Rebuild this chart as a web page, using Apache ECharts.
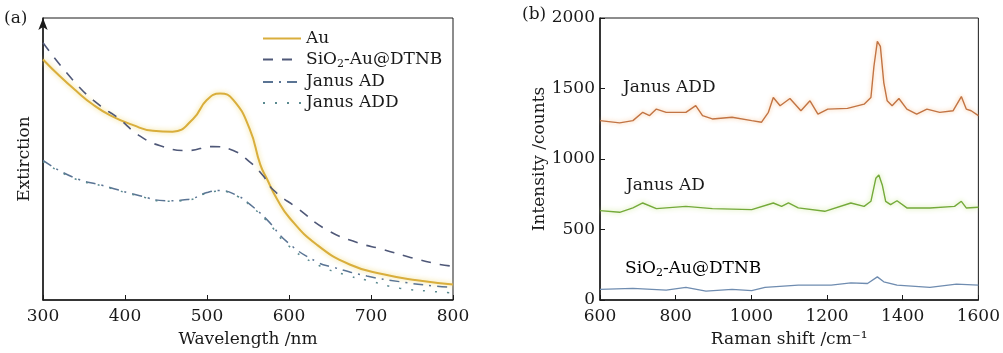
<!DOCTYPE html>
<html>
<head>
<meta charset="utf-8">
<script src="https://cdn.jsdelivr.net/npm/echarts@6/dist/echarts.min.js"></script>
<style>
  html, body { margin: 0; background: #fff; }
  #chart { width: 1003px; height: 353px; }
</style>
</head>
<body>
<div id="chart"></div>
<script>
// (a) extinction spectra, arbitrary units 0..100
const auWl   = [300, 320, 341, 360, 382, 410, 434, 458, 483, 500, 516, 532, 552, 565, 573, 585, 601, 634, 674, 715, 756, 800];
const auExt  = [85.3, 79.5, 74, 69.5, 65.5, 62, 60, 59.7, 64.2, 71, 73.2, 71, 60.7, 48, 43, 36, 29, 19.6, 12.6, 9.1, 7, 5.5];
const sioWl  = [300, 341, 370, 390, 418, 443, 476, 507, 532, 552, 568, 581, 610, 646, 683, 715, 748, 784, 800];
const sioExt = [91.2, 76.5, 68.8, 64.9, 58.2, 54.7, 53, 54.4, 53, 49, 44.2, 39, 32.6, 24.9, 20.4, 17.9, 15.1, 12.6, 12];
const adWl   = [300, 337, 373, 418, 451, 476, 500, 516, 537, 552, 573, 598, 634, 654, 695, 735, 776, 800];
const adExt  = [49.5, 43.5, 40.6, 37, 35.2, 35.6, 38.1, 38.8, 37, 34, 28.5, 20.5, 13.5, 11.6, 8.5, 6.5, 5, 4.5];
const addWl  = [300, 337, 373, 418, 451, 476, 500, 516, 537, 552, 573, 598, 634, 674, 695, 735, 776, 800];
const addExt = [49.1, 43.2, 40.4, 36.8, 35, 35.4, 37.9, 38.6, 36.8, 33.7, 28, 19.6, 12.6, 8.5, 7, 4.2, 3, 2.5];

// (b) Raman spectra
const ramAddX = [600, 652, 687, 713, 731, 749, 775, 827, 853, 871, 897, 949, 1001, 1027, 1045, 1058, 1076, 1102, 1131, 1155, 1176, 1202, 1254, 1298, 1316, 1324, 1333, 1341, 1350, 1359, 1372, 1390, 1411, 1437, 1464, 1498, 1533, 1555, 1568, 1581, 1600];
const ramAddY = [1272, 1256, 1272, 1331, 1308, 1354, 1331, 1331, 1378, 1308, 1284, 1296, 1272, 1261, 1331, 1436, 1378, 1429, 1342, 1413, 1319, 1354, 1359, 1389, 1436, 1658, 1834, 1799, 1542, 1413, 1378, 1429, 1354, 1319, 1354, 1331, 1342, 1443, 1354, 1342, 1308];
const ramAdX  = [600, 652, 687, 713, 749, 827, 897, 1001, 1058, 1080, 1098, 1124, 1194, 1263, 1298, 1316, 1329, 1337, 1346, 1355, 1368, 1385, 1411, 1472, 1537, 1555, 1568, 1600];
const ramAdY  = [634, 622, 653, 688, 648, 664, 648, 641, 688, 664, 688, 653, 629, 688, 664, 700, 863, 886, 816, 700, 676, 704, 653, 653, 664, 700, 653, 658];
const ramSioX = [600, 687, 775, 827, 880, 949, 1001, 1036, 1124, 1211, 1263, 1307, 1333, 1350, 1385, 1472, 1542, 1600];
const ramSioY = [75, 82, 70, 89, 63, 75, 66, 89, 105, 105, 122, 117, 164, 129, 105, 89, 112, 105];

const pairs = (xs, ys) => xs.map((x, i) => [x, ys[i]]);

const FONT = 'DejaVu Serif';
const INK = '#1a1a1a';
const SIO_NAME = 'SiO2-Au@DTNB';

// rich text so the "2" in SiO2 sits low
const rich = {
  n: { color: INK, fontFamily: FONT, fontSize: 17 },
  s: { color: INK, fontFamily: FONT, fontSize: 11, padding: [9, 0, 0, 0] },
};
const withSub = (name) => name === SIO_NAME ? '{n|SiO}{s|2}{n|-Au@DTNB}' : '{n|' + name + '}';

const chart = echarts.init(document.getElementById('chart'));

const axisCommon = {
  axisLine: { lineStyle: { color: INK, width: 1.5 } },
  axisTick: { inside: true, length: 5, lineStyle: { color: INK } },
  axisLabel: { color: INK, fontFamily: FONT, fontSize: 17, formatter: (v) => String(v) },
  splitLine: { show: false },
  nameTextStyle: { color: INK, fontFamily: FONT, fontSize: 17 },
};

chart.setOption({
  animation: false,
  grid: [
    { left: 43, right: 550, top: 18, bottom: 50, show: true, borderColor: INK, borderWidth: 1 },
    { left: 600, right: 21, top: 18, bottom: 50, show: true, borderColor: INK, borderWidth: 1 },
  ],
  legend: {
    data: ['Au', SIO_NAME, 'Janus AD', 'Janus ADD'],
    orient: 'vertical',
    left: 257,
    top: 25,
    itemWidth: 38,
    itemHeight: 12,
    itemGap: 4,
    itemStyle: { color: 'rgba(0,0,0,0)', borderColor: 'rgba(0,0,0,0)', borderWidth: 0 },
    formatter: withSub,
    textStyle: { color: INK, fontFamily: FONT, fontSize: 17, rich },
  },
  xAxis: [
    { ...axisCommon, gridIndex: 0, type: 'value', min: 300, max: 800, interval: 100,
      name: 'Wavelength /nm', nameLocation: 'middle', nameGap: 31 },
    { ...axisCommon, gridIndex: 1, type: 'value', min: 600, max: 1600, interval: 200,
      name: 'Raman shift /cm⁻¹', nameLocation: 'middle', nameGap: 31 },
  ],
  yAxis: [
    { ...axisCommon, gridIndex: 0, type: 'value', min: 0, max: 100,
      axisLine: { lineStyle: { color: INK, width: 1.5 }, symbol: ['none', 'arrow'], symbolSize: [7, 12] },
      axisTick: { show: false }, axisLabel: { show: false },
      name: 'Extirction', nameLocation: 'middle', nameGap: 10 },
    { ...axisCommon, gridIndex: 1, type: 'value', min: 0, max: 2000, interval: 500,
      axisLabel: { ...axisCommon.axisLabel, margin: 5 },
      name: 'Intensity /counts', nameLocation: 'middle', nameGap: 47 },
  ],
  series: [
    { name: 'Au', type: 'line', xAxisIndex: 0, yAxisIndex: 0, smooth: true, symbol: 'none',
      data: pairs(auWl, auExt),
      lineStyle: { color: '#d9ae3c', width: 2, shadowColor: 'rgba(240,215,110,0.9)', shadowBlur: 5 },
      itemStyle: { color: '#d9ae3c' } },
    { name: SIO_NAME, type: 'line', xAxisIndex: 0, yAxisIndex: 0, smooth: true, symbol: 'none',
      data: pairs(sioWl, sioExt),
      lineStyle: { color: '#4f5878', width: 1.6, type: [10, 9] },
      itemStyle: { color: '#4f5878' } },
    { name: 'Janus AD', type: 'line', xAxisIndex: 0, yAxisIndex: 0, smooth: true, symbol: 'none',
      data: pairs(adWl, adExt),
      lineStyle: { color: '#5a7494', width: 1.5, type: [10, 6, 2, 6] },
      itemStyle: { color: '#5a7494' } },
    { name: 'Janus ADD', type: 'line', xAxisIndex: 0, yAxisIndex: 0, smooth: true, symbol: 'none',
      data: pairs(addWl, addExt),
      lineStyle: { color: '#5a8a90', width: 1.5, type: [2, 10] },
      itemStyle: { color: '#5a8a90' } },

    { name: 'b-add', type: 'line', xAxisIndex: 1, yAxisIndex: 1, symbol: 'none',
      data: pairs(ramAddX, ramAddY),
      lineStyle: { color: '#c27444', width: 1.4, shadowColor: 'rgba(245,175,110,0.8)', shadowBlur: 4 } },
    { name: 'b-ad', type: 'line', xAxisIndex: 1, yAxisIndex: 1, symbol: 'none',
      data: pairs(ramAdX, ramAdY),
      lineStyle: { color: '#74aa3a', width: 1.4, shadowColor: 'rgba(190,225,120,0.9)', shadowBlur: 5 } },
    { name: 'b-sio', type: 'line', xAxisIndex: 1, yAxisIndex: 1, symbol: 'none',
      data: pairs(ramSioX, ramSioY),
      lineStyle: { color: '#6f8cb0', width: 1.3 } },
  ],
  graphic: [
    { type: 'text', left: 4, top: 10, style: { text: '(a)', font: `17px "${FONT}"`, fill: INK } },
    { type: 'text', left: 522, top: 6, style: { text: '(b)', font: `17px "${FONT}"`, fill: INK } },
    { type: 'text', left: 623, top: 79, style: { text: 'Janus ADD', font: `17px "${FONT}"`, fill: INK } },
    { type: 'text', left: 626, top: 177, style: { text: 'Janus AD', font: `17px "${FONT}"`, fill: INK } },
    { type: 'text', left: 625, top: 260, style: { text: '{n|SiO}{s|2}{n|-Au@DTNB}', rich } },
  ],
});
</script>
</body>
</html>
